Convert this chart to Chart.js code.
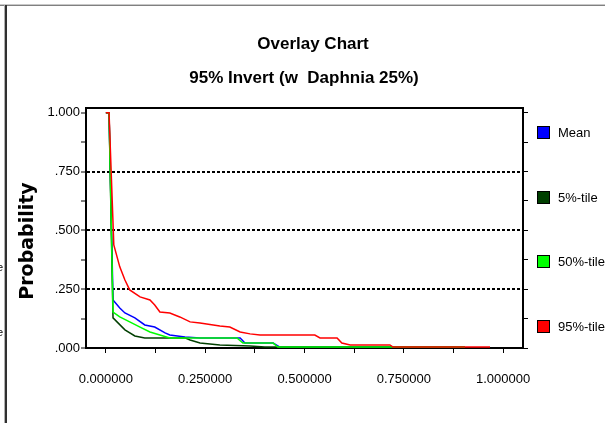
<!DOCTYPE html>
<html>
<head>
<meta charset="utf-8">
<title>Overlay Chart</title>
<script src="https://cdn.jsdelivr.net/npm/chart.js@4.4.1/dist/chart.umd.min.js"></script>
<style>
	html, body { margin: 0; padding: 0; background: #fff; }
	#wrap { position: relative; width: 605px; height: 423px; }
</style>
</head>
<body>
<div id="wrap"><canvas id="chart1" width="605" height="423"></canvas></div>
<script>
// texts
var chartTitle = 'Overlay Chart';
var chartSubtitle = '95% Invert (w  Daphnia 25%)';
var yAxisTitle = 'Probability';

// series
var seriesNames = ['Mean', '5%-tile', '50%-tile', '95%-tile'];
var seriesColors = ['#0000ff', '#003f00', '#00ff00', '#ff0000'];

var meanX = [0, 0.008, 0.018, 0.035, 0.048, 0.073, 0.098, 0.123, 0.149, 0.161, 0.199, 0.237, 0.338, 0.35, 0.421, 0.438, 0.904];
var meanY = [1, 1, 0.204, 0.17, 0.149, 0.128, 0.098, 0.089, 0.064, 0.055, 0.047, 0.043, 0.043, 0.021, 0.021, 0.004, 0.004];

var p5X = [0, 0.008, 0.018, 0.048, 0.073, 0.098, 0.199, 0.212, 0.237, 0.287, 0.363, 0.4, 0.904];
var p5Y = [1, 1, 0.128, 0.077, 0.051, 0.043, 0.043, 0.034, 0.021, 0.013, 0.009, 0.004, 0.004];

var p50X = [0, 0.008, 0.018, 0.035, 0.06, 0.086, 0.111, 0.136, 0.161, 0.33, 0.345, 0.421, 0.433, 0.904];
var p50Y = [1, 1, 0.153, 0.132, 0.111, 0.089, 0.068, 0.055, 0.043, 0.043, 0.021, 0.021, 0.004, 0.004];

var p95X = [0, 0.008, 0.02, 0.035, 0.048, 0.06, 0.086, 0.111, 0.123, 0.136, 0.161, 0.186, 0.212, 0.237, 0.287, 0.312, 0.338, 0.363, 0.388, 0.526, 0.539, 0.582, 0.594, 0.615, 0.715, 0.723, 0.967];
var p95Y = [1, 1, 0.438, 0.345, 0.289, 0.247, 0.217, 0.204, 0.183, 0.153, 0.149, 0.132, 0.111, 0.106, 0.094, 0.089, 0.068, 0.06, 0.055, 0.055, 0.043, 0.043, 0.021, 0.013, 0.013, 0.004, 0.004];

// ticks
var xTickValues = [0, 0.125, 0.25, 0.375, 0.5, 0.625, 0.75, 0.875, 1];
var xTickLabels = ['0.000000', '', '0.250000', '', '0.500000', '', '0.750000', '', '1.000000'];
var yTickValues = [0, 0.125, 0.25, 0.375, 0.5, 0.625, 0.75, 0.875, 1];
var yTickLabels = ['.000', '', '.250', '', '.500', '', '.750', '', '1.000'];
var yGridValues = [0.25, 0.5, 0.75];

var seriesX = [meanX, p5X, p50X, p95X];
var seriesY = [meanY, p5Y, p50Y, p95Y];

function points(xs, ys) {
	return xs.map(function(x, i) { return {x: x, y: ys[i]}; });
}

var datasets = seriesNames.map(function(name, i) {
	return {
		label: name,
		data: points(seriesX[i], seriesY[i]),
		borderColor: seriesColors[i],
		backgroundColor: seriesColors[i],
		borderWidth: 1.5,
		pointRadius: 0,
		tension: 0,
		fill: false,
		order: seriesNames.length - i
	};
});

var fontFamily = '"Liberation Sans", Arial, sans-serif';
Chart.defaults.font.family = fontFamily;
Chart.defaults.font.size = 13;
Chart.defaults.color = '#000';

// titles, legend, frame
var overlayDecor = {
	id: 'overlayDecor',
	afterDraw: function(chart) {
		var c = chart.ctx;
		var area = chart.chartArea;
		c.save();

		// panel frame
		c.fillStyle = '#c8c8c8';
		c.fillRect(0, 4, 605, 1);
		c.fillStyle = '#808080';
		c.fillRect(0, 5, 605, 1);
		c.fillStyle = '#b0b0b0';
		c.fillRect(4, 5, 1, 418);
		c.fillStyle = '#303030';
		c.fillRect(5, 5, 2, 418);

		// top edge of plot box
		c.strokeStyle = '#000';
		c.lineWidth = 2;
		c.beginPath();
		c.moveTo(area.left - 1, area.top);
		c.lineTo(area.right + 1, area.top);
		c.stroke();

		// titles
		c.fillStyle = '#000';
		c.textAlign = 'center';
		c.textBaseline = 'alphabetic';
		c.font = 'bold 17px ' + fontFamily;
		c.fillText(chartTitle, 313, 49);
		c.fillText(chartSubtitle, 304, 83);

		// y axis title
		c.save();
		c.translate(33, 241);
		c.rotate(-Math.PI / 2);
		c.font = 'bold 19px "DejaVu Sans", Verdana, sans-serif';
		c.fillText(yAxisTitle, 0, 0);
		c.restore();

		// legend
		c.font = '13px ' + fontFamily;
		c.textAlign = 'left';
		c.textBaseline = 'middle';
		c.lineWidth = 1;
		seriesNames.forEach(function(name, i) {
			var top = Math.round(126 + i * 64.7);
			c.fillStyle = seriesColors[i];
			c.fillRect(537, top, 13, 13);
			c.strokeStyle = '#000';
			c.strokeRect(537.5, top + 0.5, 12, 12);
			c.fillStyle = '#000';
			c.fillText(name, 558, top + 7);
		});

		// clipped labels of the neighbour panel
		c.font = '10px ' + fontFamily;
		c.textAlign = 'right';
		c.fillText('50%-tile', 3, 268);
		c.fillText('95%-tile', 3, 333);

		c.restore();
	}
};

var config1 = {
	type: 'line',
	data: { datasets: datasets },
	options: {
		responsive: false,
		animation: false,
		devicePixelRatio: 1,
		layout: {
			padding: { top: 108, left: 0, right: 0, bottom: 0 }
		},
		plugins: {
			legend: { display: false },
			title: { display: false },
			tooltip: { enabled: false }
		},
		scales: {
			x: {
				type: 'linear',
				min: -0.05,
				max: 1.05,
				afterBuildTicks: function(scale) {
					scale.ticks = xTickValues.map(function(v) { return {value: v}; });
				},
				afterFit: function(scale) { scale.height = 75; },
				ticks: {
					autoSkip: false,
					maxRotation: 0,
					minRotation: 0,
					padding: 19,
					callback: function(value, index) { return xTickLabels[index]; }
				},
				grid: {
					drawOnChartArea: false,
					drawTicks: true,
					tickLength: 5,
					tickColor: '#000'
				},
				border: { display: true, color: '#000', width: 2 }
			},
			y: {
				type: 'linear',
				position: 'left',
				min: 0,
				max: 1.02,
				afterBuildTicks: function(scale) {
					scale.ticks = yTickValues.map(function(v) { return {value: v}; });
				},
				afterFit: function(scale) { scale.width = 86; },
				ticks: {
					autoSkip: false,
					padding: 1,
					callback: function(value, index) { return yTickLabels[index]; }
				},
				grid: {
					drawOnChartArea: true,
					drawTicks: true,
					tickLength: 5,
					tickColor: '#000',
					tickWidth: 1,
					lineWidth: 2,
					color: function(ctx) {
						if (ctx.tick && yGridValues.indexOf(ctx.tick.value) >= 0) return '#000';
						return 'rgba(0,0,0,0)';
					}
				},
				border: { display: true, color: '#000', width: 2, dash: [3, 2] }
			},
			y2: {
				type: 'linear',
				position: 'right',
				min: 0,
				max: 1.02,
				afterBuildTicks: function(scale) {
					scale.ticks = yTickValues.map(function(v) { return {value: v}; });
				},
				afterFit: function(scale) { scale.width = 82; },
				ticks: { display: false },
				grid: {
					drawOnChartArea: false,
					drawTicks: true,
					tickLength: 5,
					tickColor: '#000'
				},
				border: { display: true, color: '#000', width: 2 }
			}
		}
	},
	plugins: [overlayDecor]
};

var chart1 = new Chart(document.getElementById('chart1'), config1);
</script>
</body>
</html>
